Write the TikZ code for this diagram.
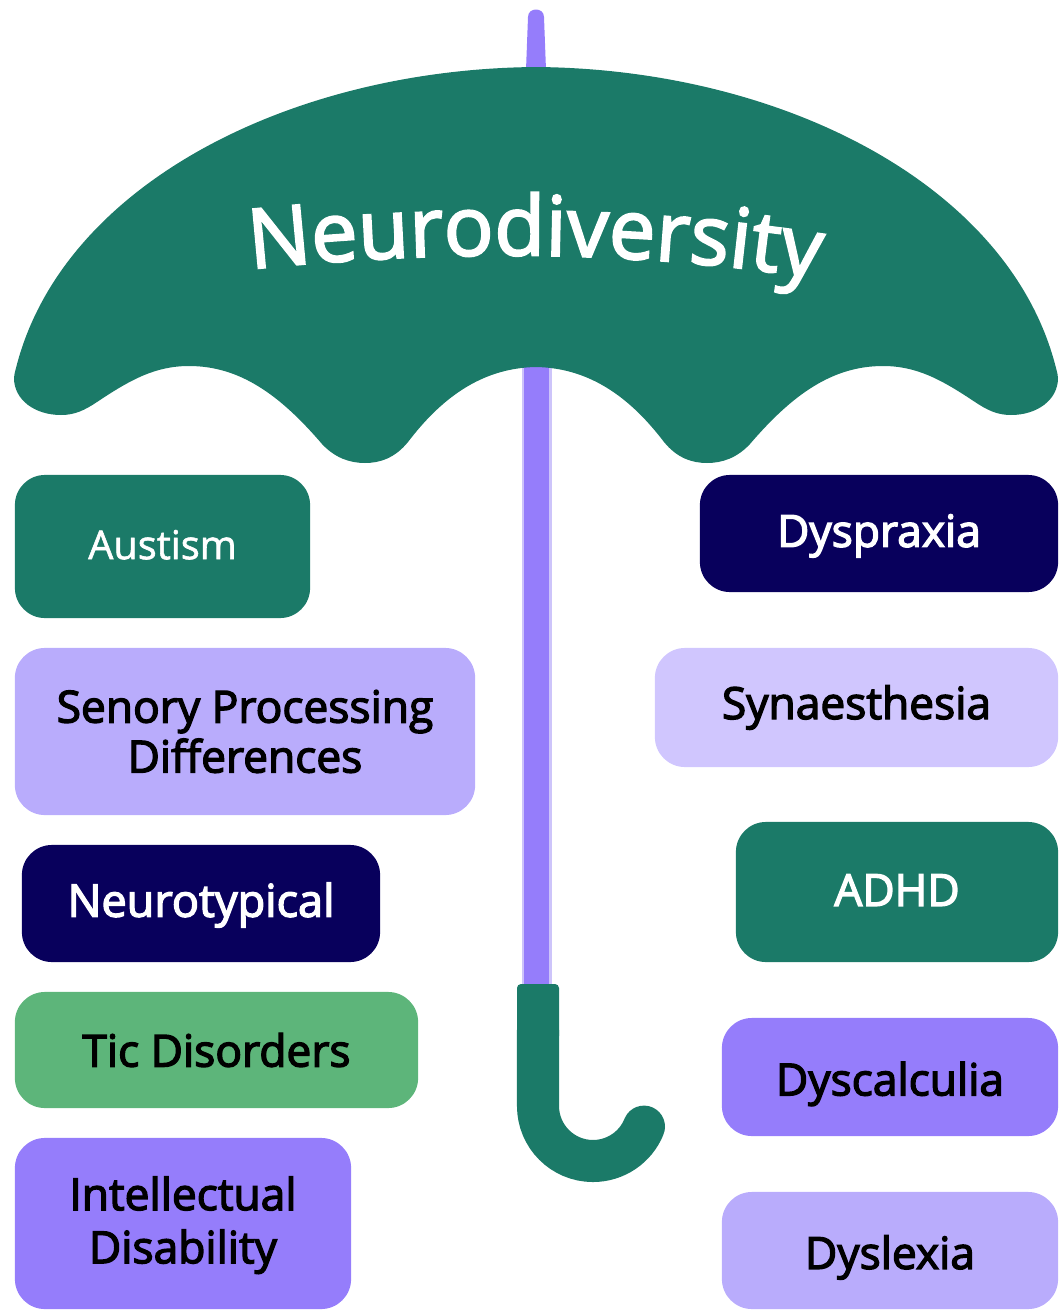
\documentclass[tikz,border=0pt]{standalone}
\usepackage{fontspec}
\setmainfont{Open Sans}
\newfontfamily\boxfont[FakeBold=3]{Open Sans}
\newfontfamily\titlefont[FakeBold=2.5]{Open Sans}
\newfontfamily\softfont[FakeBold=1.5]{Open Sans}
\usetikzlibrary{decorations.text}
\tikzset{
  lbl/.style={rectangle, rounded corners=0.3cm, inner sep=0pt, align=center, font=\boxfont\fontsize{12.6}{14.2}\selectfont, text=black},
  teal/.style={lbl, fill={rgb,255:red,27; green,122; blue,104}, text=white},
  navy/.style={lbl, fill={rgb,255:red,8; green,0; blue,92}, text=white},
  violet/.style={lbl, fill={rgb,255:red,149; green,125; blue,251}},
  lilac/.style={lbl, fill={rgb,255:red,185; green,172; blue,252}},
  pale/.style={lbl, fill={rgb,255:red,208; green,198; blue,254}},
  leaf/.style={lbl, fill={rgb,255:red,93; green,181; blue,122}}
}
\begin{document}
\begin{tikzpicture}[x=0.01cm,y=0.01cm]
    \useasboundingbox (0,0) rectangle (1064,-1312);
    % shaft and tip
    \fill [fill={rgb,255:red,205; green,196; blue,250}] (522,-360) rectangle (552,-990);
    \fill [fill={rgb,255:red,149; green,125; blue,251}] (524,-360) rectangle (549,-990);
    \fill [fill={rgb,255:red,149; green,125; blue,251}] (526,-70) -- (528,-17) .. controls (528,-7) and (544,-7) .. (544,-17) -- (546,-70) -- cycle;
    % canopy
    \fill [fill={rgb,255:red,27; green,122; blue,104}] (14,-378) .. controls (14,-375) and (15,-372) .. (16,-368)
      .. controls (62,-185) and (290,-69) .. (536,-67)
      .. controls (782,-69) and (1010,-185) .. (1056,-368)
      .. controls (1057,-372) and (1058,-375) .. (1058,-378)
      .. controls (1058,-400) and (1037,-415) .. (1011,-415)
      .. controls (997,-415) and (987,-410) .. (975,-402)
      .. controls (942,-380) and (917,-366) .. (883,-366)
      .. controls (832,-366) and (792,-395) .. (750,-444)
      .. controls (737,-458) and (722,-463) .. (707,-463)
      .. controls (692,-463) and (677,-458) .. (664,-442)
      .. controls (632,-400) and (592,-368) .. (536,-367)
      .. controls (480,-368) and (440,-400) .. (408,-442)
      .. controls (395,-458) and (380,-463) .. (365,-463)
      .. controls (350,-463) and (335,-458) .. (322,-444)
      .. controls (280,-395) and (240,-366) .. (189,-366)
      .. controls (155,-366) and (130,-380) .. (97,-402)
      .. controls (85,-410) and (75,-415) .. (61,-415)
      .. controls (35,-415) and (14,-400) .. (14,-378) -- cycle;
    \path [decorate, decoration={text along path, text align=center, text color=white,
      text={|\titlefont\fontsize{23.6}{26}\selectfont|Neurodiversity}}] (242,-270) .. controls (437,-249) and (637,-249) .. (827,-280);
    % handle
    \draw [color={rgb,255:red,27; green,122; blue,104}, line width=0.42cm, line cap=round] (538,-1030) -- (538,-1106) arc (180:338:55);
    \fill [fill={rgb,255:red,27; green,122; blue,104}, rounded corners=0.04cm] (517,-984) rectangle (559,-1040);
    % left column
    \node [teal, minimum width=2.95cm, minimum height=1.43cm, font=\softfont\fontsize{11.3}{14}\selectfont, text depth=1.1pt] (austism) at (162.5,-546.5) {Austism};
    \node [lilac, minimum width=4.6cm, minimum height=1.67cm] (senory) at (245,-731.5) {Senory Processing\\Differences};
    \node [navy, minimum width=3.58cm, minimum height=1.17cm, text height=10.6pt, font=\boxfont\fontsize{12.8}{14.2}\selectfont] (neurotypical) at (201,-903.5) {Neurotypical};
    \node [leaf, minimum width=4.03cm, minimum height=1.16cm] (tic) at (216.5,-1050) {Tic Disorders};
    \node [violet, minimum width=3.36cm, minimum height=1.71cm] (intellectual) at (183,-1223.5) {\rule{0pt}{10.5pt}Intellectual\\[0.9pt]Disability};
    % right column
    \node [navy, minimum width=3.58cm, minimum height=1.17cm, text height=10.6pt] (dyspraxia) at (879,-533.5) {Dyspraxia};
    \node [pale, minimum width=4.03cm, minimum height=1.19cm] (synaesthesia) at (856.5,-707.5) {Synaesthesia};
    \node [teal, minimum width=3.22cm, minimum height=1.4cm, text depth=1.1pt] (adhd) at (897,-892) {ADHD};
    \node [violet, minimum width=3.36cm, minimum height=1.18cm, text height=13.5pt] (dyscalculia) at (890,-1077) {Dyscalculia};
    \node [lilac, minimum width=3.36cm, minimum height=1.17cm, text height=13.5pt] (dyslexia) at (890,-1250.5) {Dyslexia};
\end{tikzpicture}
\end{document}
